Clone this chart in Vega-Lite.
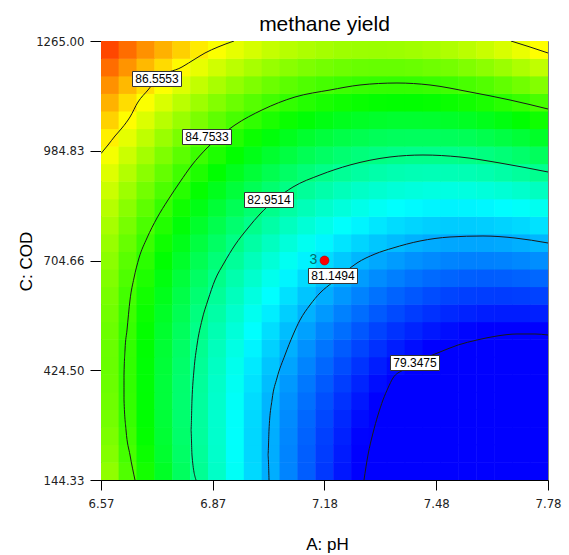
{
"$schema":"https://vega.github.io/schema/vega-lite/v6.json",
"width":447,"height":439,
"autosize":"none",
"padding":{"left":101,"top":41,"right":21,"bottom":75},
"background":"white",
"title":{"text":"methane yield","fontSize":21,"font":"Liberation Sans","fontWeight":"normal","color":"#000","anchor":"middle","frame":"group","offset":0},
"datasets":{
"grid":[
{"ph":6.5942,"cod":166.74,"y":85.52},{"ph":6.6426,"cod":166.74,"y":84.94},{"ph":6.691,"cod":166.74,"y":84.38},{"ph":6.7394,"cod":166.74,"y":83.85},{"ph":6.7878,"cod":166.74,"y":83.33},{"ph":6.8362,"cod":166.74,"y":82.84},{"ph":6.8846,"cod":166.74,"y":82.37},{"ph":6.933,"cod":166.74,"y":81.92},{"ph":6.9814,"cod":166.74,"y":81.50},{"ph":7.0298,"cod":166.74,"y":81.10},{"ph":7.0782,"cod":166.74,"y":80.72},{"ph":7.1266,"cod":166.74,"y":80.36},{"ph":7.175,"cod":166.74,"y":80.02},{"ph":7.2234,"cod":166.74,"y":79.71},{"ph":7.2718,"cod":166.74,"y":79.42},{"ph":7.3202,"cod":166.74,"y":79.15},{"ph":7.3686,"cod":166.74,"y":78.91},{"ph":7.417,"cod":166.74,"y":78.68},{"ph":7.4654,"cod":166.74,"y":78.48},{"ph":7.5138,"cod":166.74,"y":78.30},{"ph":7.5622,"cod":166.74,"y":78.15},{"ph":7.6106,"cod":166.74,"y":78.01},{"ph":7.659,"cod":166.74,"y":77.90},{"ph":7.7074,"cod":166.74,"y":77.81},{"ph":7.7558,"cod":166.74,"y":77.75},
{"ph":6.5942,"cod":211.57,"y":85.41},{"ph":6.6426,"cod":211.57,"y":84.84},{"ph":6.691,"cod":211.57,"y":84.30},{"ph":6.7394,"cod":211.57,"y":83.77},{"ph":6.7878,"cod":211.57,"y":83.27},{"ph":6.8362,"cod":211.57,"y":82.79},{"ph":6.8846,"cod":211.57,"y":82.33},{"ph":6.933,"cod":211.57,"y":81.89},{"ph":6.9814,"cod":211.57,"y":81.48},{"ph":7.0298,"cod":211.57,"y":81.09},{"ph":7.0782,"cod":211.57,"y":80.72},{"ph":7.1266,"cod":211.57,"y":80.37},{"ph":7.175,"cod":211.57,"y":80.05},{"ph":7.2234,"cod":211.57,"y":79.75},{"ph":7.2718,"cod":211.57,"y":79.47},{"ph":7.3202,"cod":211.57,"y":79.21},{"ph":7.3686,"cod":211.57,"y":78.97},{"ph":7.417,"cod":211.57,"y":78.76},{"ph":7.4654,"cod":211.57,"y":78.57},{"ph":7.5138,"cod":211.57,"y":78.40},{"ph":7.5622,"cod":211.57,"y":78.26},{"ph":7.6106,"cod":211.57,"y":78.13},{"ph":7.659,"cod":211.57,"y":78.03},{"ph":7.7074,"cod":211.57,"y":77.96},{"ph":7.7558,"cod":211.57,"y":77.90},
{"ph":6.5942,"cod":256.4,"y":85.33},{"ph":6.6426,"cod":256.4,"y":84.77},{"ph":6.691,"cod":256.4,"y":84.23},{"ph":6.7394,"cod":256.4,"y":83.72},{"ph":6.7878,"cod":256.4,"y":83.22},{"ph":6.8362,"cod":256.4,"y":82.75},{"ph":6.8846,"cod":256.4,"y":82.31},{"ph":6.933,"cod":256.4,"y":81.88},{"ph":6.9814,"cod":256.4,"y":81.48},{"ph":7.0298,"cod":256.4,"y":81.10},{"ph":7.0782,"cod":256.4,"y":80.74},{"ph":7.1266,"cod":256.4,"y":80.40},{"ph":7.175,"cod":256.4,"y":80.09},{"ph":7.2234,"cod":256.4,"y":79.80},{"ph":7.2718,"cod":256.4,"y":79.53},{"ph":7.3202,"cod":256.4,"y":79.28},{"ph":7.3686,"cod":256.4,"y":79.06},{"ph":7.417,"cod":256.4,"y":78.86},{"ph":7.4654,"cod":256.4,"y":78.68},{"ph":7.5138,"cod":256.4,"y":78.52},{"ph":7.5622,"cod":256.4,"y":78.39},{"ph":7.6106,"cod":256.4,"y":78.27},{"ph":7.659,"cod":256.4,"y":78.18},{"ph":7.7074,"cod":256.4,"y":78.12},{"ph":7.7558,"cod":256.4,"y":78.07},
{"ph":6.5942,"cod":301.22,"y":85.26},{"ph":6.6426,"cod":301.22,"y":84.71},{"ph":6.691,"cod":301.22,"y":84.18},{"ph":6.7394,"cod":301.22,"y":83.68},{"ph":6.7878,"cod":301.22,"y":83.20},{"ph":6.8362,"cod":301.22,"y":82.74},{"ph":6.8846,"cod":301.22,"y":82.30},{"ph":6.933,"cod":301.22,"y":81.89},{"ph":6.9814,"cod":301.22,"y":81.50},{"ph":7.0298,"cod":301.22,"y":81.13},{"ph":7.0782,"cod":301.22,"y":80.78},{"ph":7.1266,"cod":301.22,"y":80.45},{"ph":7.175,"cod":301.22,"y":80.15},{"ph":7.2234,"cod":301.22,"y":79.87},{"ph":7.2718,"cod":301.22,"y":79.61},{"ph":7.3202,"cod":301.22,"y":79.38},{"ph":7.3686,"cod":301.22,"y":79.16},{"ph":7.417,"cod":301.22,"y":78.97},{"ph":7.4654,"cod":301.22,"y":78.80},{"ph":7.5138,"cod":301.22,"y":78.66},{"ph":7.5622,"cod":301.22,"y":78.53},{"ph":7.6106,"cod":301.22,"y":78.43},{"ph":7.659,"cod":301.22,"y":78.35},{"ph":7.7074,"cod":301.22,"y":78.30},{"ph":7.7558,"cod":301.22,"y":78.26},
{"ph":6.5942,"cod":346.05,"y":85.21},{"ph":6.6426,"cod":346.05,"y":84.67},{"ph":6.691,"cod":346.05,"y":84.16},{"ph":6.7394,"cod":346.05,"y":83.66},{"ph":6.7878,"cod":346.05,"y":83.19},{"ph":6.8362,"cod":346.05,"y":82.74},{"ph":6.8846,"cod":346.05,"y":82.32},{"ph":6.933,"cod":346.05,"y":81.91},{"ph":6.9814,"cod":346.05,"y":81.53},{"ph":7.0298,"cod":346.05,"y":81.17},{"ph":7.0782,"cod":346.05,"y":80.84},{"ph":7.1266,"cod":346.05,"y":80.52},{"ph":7.175,"cod":346.05,"y":80.23},{"ph":7.2234,"cod":346.05,"y":79.96},{"ph":7.2718,"cod":346.05,"y":79.71},{"ph":7.3202,"cod":346.05,"y":79.49},{"ph":7.3686,"cod":346.05,"y":79.29},{"ph":7.417,"cod":346.05,"y":79.11},{"ph":7.4654,"cod":346.05,"y":78.95},{"ph":7.5138,"cod":346.05,"y":78.81},{"ph":7.5622,"cod":346.05,"y":78.70},{"ph":7.6106,"cod":346.05,"y":78.61},{"ph":7.659,"cod":346.05,"y":78.54},{"ph":7.7074,"cod":346.05,"y":78.49},{"ph":7.7558,"cod":346.05,"y":78.47},
{"ph":6.5942,"cod":390.88,"y":85.18},{"ph":6.6426,"cod":390.88,"y":84.65},{"ph":6.691,"cod":390.88,"y":84.15},{"ph":6.7394,"cod":390.88,"y":83.66},{"ph":6.7878,"cod":390.88,"y":83.20},{"ph":6.8362,"cod":390.88,"y":82.77},{"ph":6.8846,"cod":390.88,"y":82.35},{"ph":6.933,"cod":390.88,"y":81.96},{"ph":6.9814,"cod":390.88,"y":81.59},{"ph":7.0298,"cod":390.88,"y":81.24},{"ph":7.0782,"cod":390.88,"y":80.91},{"ph":7.1266,"cod":390.88,"y":80.61},{"ph":7.175,"cod":390.88,"y":80.33},{"ph":7.2234,"cod":390.88,"y":80.07},{"ph":7.2718,"cod":390.88,"y":79.83},{"ph":7.3202,"cod":390.88,"y":79.62},{"ph":7.3686,"cod":390.88,"y":79.43},{"ph":7.417,"cod":390.88,"y":79.26},{"ph":7.4654,"cod":390.88,"y":79.11},{"ph":7.5138,"cod":390.88,"y":78.99},{"ph":7.5622,"cod":390.88,"y":78.88},{"ph":7.6106,"cod":390.88,"y":78.80},{"ph":7.659,"cod":390.88,"y":78.75},{"ph":7.7074,"cod":390.88,"y":78.71},{"ph":7.7558,"cod":390.88,"y":78.70},
{"ph":6.5942,"cod":435.7,"y":85.16},{"ph":6.6426,"cod":435.7,"y":84.65},{"ph":6.691,"cod":435.7,"y":84.15},{"ph":6.7394,"cod":435.7,"y":83.68},{"ph":6.7878,"cod":435.7,"y":83.23},{"ph":6.8362,"cod":435.7,"y":82.81},{"ph":6.8846,"cod":435.7,"y":82.40},{"ph":6.933,"cod":435.7,"y":82.02},{"ph":6.9814,"cod":435.7,"y":81.66},{"ph":7.0298,"cod":435.7,"y":81.32},{"ph":7.0782,"cod":435.7,"y":81.01},{"ph":7.1266,"cod":435.7,"y":80.72},{"ph":7.175,"cod":435.7,"y":80.45},{"ph":7.2234,"cod":435.7,"y":80.20},{"ph":7.2718,"cod":435.7,"y":79.97},{"ph":7.3202,"cod":435.7,"y":79.77},{"ph":7.3686,"cod":435.7,"y":79.59},{"ph":7.417,"cod":435.7,"y":79.43},{"ph":7.4654,"cod":435.7,"y":79.29},{"ph":7.5138,"cod":435.7,"y":79.18},{"ph":7.5622,"cod":435.7,"y":79.09},{"ph":7.6106,"cod":435.7,"y":79.02},{"ph":7.659,"cod":435.7,"y":78.97},{"ph":7.7074,"cod":435.7,"y":78.95},{"ph":7.7558,"cod":435.7,"y":78.94},
{"ph":6.5942,"cod":480.53,"y":85.17},{"ph":6.6426,"cod":480.53,"y":84.66},{"ph":6.691,"cod":480.53,"y":84.18},{"ph":6.7394,"cod":480.53,"y":83.72},{"ph":6.7878,"cod":480.53,"y":83.28},{"ph":6.8362,"cod":480.53,"y":82.87},{"ph":6.8846,"cod":480.53,"y":82.47},{"ph":6.933,"cod":480.53,"y":82.10},{"ph":6.9814,"cod":480.53,"y":81.75},{"ph":7.0298,"cod":480.53,"y":81.43},{"ph":7.0782,"cod":480.53,"y":81.12},{"ph":7.1266,"cod":480.53,"y":80.84},{"ph":7.175,"cod":480.53,"y":80.58},{"ph":7.2234,"cod":480.53,"y":80.34},{"ph":7.2718,"cod":480.53,"y":80.13},{"ph":7.3202,"cod":480.53,"y":79.94},{"ph":7.3686,"cod":480.53,"y":79.77},{"ph":7.417,"cod":480.53,"y":79.62},{"ph":7.4654,"cod":480.53,"y":79.49},{"ph":7.5138,"cod":480.53,"y":79.39},{"ph":7.5622,"cod":480.53,"y":79.31},{"ph":7.6106,"cod":480.53,"y":79.25},{"ph":7.659,"cod":480.53,"y":79.21},{"ph":7.7074,"cod":480.53,"y":79.20},{"ph":7.7558,"cod":480.53,"y":79.21},
{"ph":6.5942,"cod":525.36,"y":85.19},{"ph":6.6426,"cod":525.36,"y":84.70},{"ph":6.691,"cod":525.36,"y":84.23},{"ph":6.7394,"cod":525.36,"y":83.78},{"ph":6.7878,"cod":525.36,"y":83.35},{"ph":6.8362,"cod":525.36,"y":82.95},{"ph":6.8846,"cod":525.36,"y":82.56},{"ph":6.933,"cod":525.36,"y":82.20},{"ph":6.9814,"cod":525.36,"y":81.86},{"ph":7.0298,"cod":525.36,"y":81.55},{"ph":7.0782,"cod":525.36,"y":81.25},{"ph":7.1266,"cod":525.36,"y":80.98},{"ph":7.175,"cod":525.36,"y":80.73},{"ph":7.2234,"cod":525.36,"y":80.51},{"ph":7.2718,"cod":525.36,"y":80.30},{"ph":7.3202,"cod":525.36,"y":80.12},{"ph":7.3686,"cod":525.36,"y":79.96},{"ph":7.417,"cod":525.36,"y":79.83},{"ph":7.4654,"cod":525.36,"y":79.71},{"ph":7.5138,"cod":525.36,"y":79.62},{"ph":7.5622,"cod":525.36,"y":79.55},{"ph":7.6106,"cod":525.36,"y":79.50},{"ph":7.659,"cod":525.36,"y":79.48},{"ph":7.7074,"cod":525.36,"y":79.47},{"ph":7.7558,"cod":525.36,"y":79.49},
{"ph":6.5942,"cod":570.18,"y":85.24},{"ph":6.6426,"cod":570.18,"y":84.75},{"ph":6.691,"cod":570.18,"y":84.29},{"ph":6.7394,"cod":570.18,"y":83.85},{"ph":6.7878,"cod":570.18,"y":83.44},{"ph":6.8362,"cod":570.18,"y":83.04},{"ph":6.8846,"cod":570.18,"y":82.67},{"ph":6.933,"cod":570.18,"y":82.32},{"ph":6.9814,"cod":570.18,"y":81.99},{"ph":7.0298,"cod":570.18,"y":81.69},{"ph":7.0782,"cod":570.18,"y":81.41},{"ph":7.1266,"cod":570.18,"y":81.14},{"ph":7.175,"cod":570.18,"y":80.91},{"ph":7.2234,"cod":570.18,"y":80.69},{"ph":7.2718,"cod":570.18,"y":80.50},{"ph":7.3202,"cod":570.18,"y":80.33},{"ph":7.3686,"cod":570.18,"y":80.18},{"ph":7.417,"cod":570.18,"y":80.05},{"ph":7.4654,"cod":570.18,"y":79.95},{"ph":7.5138,"cod":570.18,"y":79.87},{"ph":7.5622,"cod":570.18,"y":79.81},{"ph":7.6106,"cod":570.18,"y":79.77},{"ph":7.659,"cod":570.18,"y":79.76},{"ph":7.7074,"cod":570.18,"y":79.76},{"ph":7.7558,"cod":570.18,"y":79.79},
{"ph":6.5942,"cod":615.01,"y":85.30},{"ph":6.6426,"cod":615.01,"y":84.82},{"ph":6.691,"cod":615.01,"y":84.37},{"ph":6.7394,"cod":615.01,"y":83.95},{"ph":6.7878,"cod":615.01,"y":83.54},{"ph":6.8362,"cod":615.01,"y":83.16},{"ph":6.8846,"cod":615.01,"y":82.80},{"ph":6.933,"cod":615.01,"y":82.46},{"ph":6.9814,"cod":615.01,"y":82.14},{"ph":7.0298,"cod":615.01,"y":81.85},{"ph":7.0782,"cod":615.01,"y":81.57},{"ph":7.1266,"cod":615.01,"y":81.32},{"ph":7.175,"cod":615.01,"y":81.10},{"ph":7.2234,"cod":615.01,"y":80.89},{"ph":7.2718,"cod":615.01,"y":80.71},{"ph":7.3202,"cod":615.01,"y":80.55},{"ph":7.3686,"cod":615.01,"y":80.41},{"ph":7.417,"cod":615.01,"y":80.30},{"ph":7.4654,"cod":615.01,"y":80.20},{"ph":7.5138,"cod":615.01,"y":80.13},{"ph":7.5622,"cod":615.01,"y":80.08},{"ph":7.6106,"cod":615.01,"y":80.06},{"ph":7.659,"cod":615.01,"y":80.05},{"ph":7.7074,"cod":615.01,"y":80.07},{"ph":7.7558,"cod":615.01,"y":80.11},
{"ph":6.5942,"cod":659.84,"y":85.38},{"ph":6.6426,"cod":659.84,"y":84.92},{"ph":6.691,"cod":659.84,"y":84.48},{"ph":6.7394,"cod":659.84,"y":84.06},{"ph":6.7878,"cod":659.84,"y":83.66},{"ph":6.8362,"cod":659.84,"y":83.29},{"ph":6.8846,"cod":659.84,"y":82.94},{"ph":6.933,"cod":659.84,"y":82.61},{"ph":6.9814,"cod":659.84,"y":82.31},{"ph":7.0298,"cod":659.84,"y":82.02},{"ph":7.0782,"cod":659.84,"y":81.76},{"ph":7.1266,"cod":659.84,"y":81.52},{"ph":7.175,"cod":659.84,"y":81.31},{"ph":7.2234,"cod":659.84,"y":81.11},{"ph":7.2718,"cod":659.84,"y":80.94},{"ph":7.3202,"cod":659.84,"y":80.79},{"ph":7.3686,"cod":659.84,"y":80.67},{"ph":7.417,"cod":659.84,"y":80.56},{"ph":7.4654,"cod":659.84,"y":80.48},{"ph":7.5138,"cod":659.84,"y":80.42},{"ph":7.5622,"cod":659.84,"y":80.38},{"ph":7.6106,"cod":659.84,"y":80.36},{"ph":7.659,"cod":659.84,"y":80.37},{"ph":7.7074,"cod":659.84,"y":80.40},{"ph":7.7558,"cod":659.84,"y":80.45},
{"ph":6.5942,"cod":704.67,"y":85.48},{"ph":6.6426,"cod":704.67,"y":85.02},{"ph":6.691,"cod":704.67,"y":84.60},{"ph":6.7394,"cod":704.67,"y":84.19},{"ph":6.7878,"cod":704.67,"y":83.81},{"ph":6.8362,"cod":704.67,"y":83.44},{"ph":6.8846,"cod":704.67,"y":83.10},{"ph":6.933,"cod":704.67,"y":82.79},{"ph":6.9814,"cod":704.67,"y":82.49},{"ph":7.0298,"cod":704.67,"y":82.22},{"ph":7.0782,"cod":704.67,"y":81.97},{"ph":7.1266,"cod":704.67,"y":81.74},{"ph":7.175,"cod":704.67,"y":81.54},{"ph":7.2234,"cod":704.67,"y":81.35},{"ph":7.2718,"cod":704.67,"y":81.19},{"ph":7.3202,"cod":704.67,"y":81.05},{"ph":7.3686,"cod":704.67,"y":80.94},{"ph":7.417,"cod":704.67,"y":80.84},{"ph":7.4654,"cod":704.67,"y":80.77},{"ph":7.5138,"cod":704.67,"y":80.72},{"ph":7.5622,"cod":704.67,"y":80.69},{"ph":7.6106,"cod":704.67,"y":80.69},{"ph":7.659,"cod":704.67,"y":80.71},{"ph":7.7074,"cod":704.67,"y":80.75},{"ph":7.7558,"cod":704.67,"y":80.81},
{"ph":6.5942,"cod":749.49,"y":85.59},{"ph":6.6426,"cod":749.49,"y":85.15},{"ph":6.691,"cod":749.49,"y":84.73},{"ph":6.7394,"cod":749.49,"y":84.34},{"ph":6.7878,"cod":749.49,"y":83.97},{"ph":6.8362,"cod":749.49,"y":83.61},{"ph":6.8846,"cod":749.49,"y":83.29},{"ph":6.933,"cod":749.49,"y":82.98},{"ph":6.9814,"cod":749.49,"y":82.69},{"ph":7.0298,"cod":749.49,"y":82.43},{"ph":7.0782,"cod":749.49,"y":82.19},{"ph":7.1266,"cod":749.49,"y":81.98},{"ph":7.175,"cod":749.49,"y":81.78},{"ph":7.2234,"cod":749.49,"y":81.61},{"ph":7.2718,"cod":749.49,"y":81.46},{"ph":7.3202,"cod":749.49,"y":81.33},{"ph":7.3686,"cod":749.49,"y":81.23},{"ph":7.417,"cod":749.49,"y":81.14},{"ph":7.4654,"cod":749.49,"y":81.08},{"ph":7.5138,"cod":749.49,"y":81.04},{"ph":7.5622,"cod":749.49,"y":81.03},{"ph":7.6106,"cod":749.49,"y":81.03},{"ph":7.659,"cod":749.49,"y":81.06},{"ph":7.7074,"cod":749.49,"y":81.11},{"ph":7.7558,"cod":749.49,"y":81.19},
{"ph":6.5942,"cod":794.32,"y":85.73},{"ph":6.6426,"cod":794.32,"y":85.30},{"ph":6.691,"cod":794.32,"y":84.89},{"ph":6.7394,"cod":794.32,"y":84.51},{"ph":6.7878,"cod":794.32,"y":84.14},{"ph":6.8362,"cod":794.32,"y":83.80},{"ph":6.8846,"cod":794.32,"y":83.49},{"ph":6.933,"cod":794.32,"y":83.19},{"ph":6.9814,"cod":794.32,"y":82.92},{"ph":7.0298,"cod":794.32,"y":82.67},{"ph":7.0782,"cod":794.32,"y":82.44},{"ph":7.1266,"cod":794.32,"y":82.23},{"ph":7.175,"cod":794.32,"y":82.05},{"ph":7.2234,"cod":794.32,"y":81.88},{"ph":7.2718,"cod":794.32,"y":81.75},{"ph":7.3202,"cod":794.32,"y":81.63},{"ph":7.3686,"cod":794.32,"y":81.53},{"ph":7.417,"cod":794.32,"y":81.46},{"ph":7.4654,"cod":794.32,"y":81.41},{"ph":7.5138,"cod":794.32,"y":81.38},{"ph":7.5622,"cod":794.32,"y":81.38},{"ph":7.6106,"cod":794.32,"y":81.40},{"ph":7.659,"cod":794.32,"y":81.44},{"ph":7.7074,"cod":794.32,"y":81.50},{"ph":7.7558,"cod":794.32,"y":81.58},
{"ph":6.5942,"cod":839.15,"y":85.88},{"ph":6.6426,"cod":839.15,"y":85.46},{"ph":6.691,"cod":839.15,"y":85.07},{"ph":6.7394,"cod":839.15,"y":84.69},{"ph":6.7878,"cod":839.15,"y":84.34},{"ph":6.8362,"cod":839.15,"y":84.01},{"ph":6.8846,"cod":839.15,"y":83.70},{"ph":6.933,"cod":839.15,"y":83.42},{"ph":6.9814,"cod":839.15,"y":83.16},{"ph":7.0298,"cod":839.15,"y":82.92},{"ph":7.0782,"cod":839.15,"y":82.70},{"ph":7.1266,"cod":839.15,"y":82.50},{"ph":7.175,"cod":839.15,"y":82.33},{"ph":7.2234,"cod":839.15,"y":82.18},{"ph":7.2718,"cod":839.15,"y":82.05},{"ph":7.3202,"cod":839.15,"y":81.94},{"ph":7.3686,"cod":839.15,"y":81.86},{"ph":7.417,"cod":839.15,"y":81.80},{"ph":7.4654,"cod":839.15,"y":81.76},{"ph":7.5138,"cod":839.15,"y":81.74},{"ph":7.5622,"cod":839.15,"y":81.75},{"ph":7.6106,"cod":839.15,"y":81.78},{"ph":7.659,"cod":839.15,"y":81.83},{"ph":7.7074,"cod":839.15,"y":81.90},{"ph":7.7558,"cod":839.15,"y":81.99},
{"ph":6.5942,"cod":883.97,"y":86.06},{"ph":6.6426,"cod":883.97,"y":85.65},{"ph":6.691,"cod":883.97,"y":85.26},{"ph":6.7394,"cod":883.97,"y":84.90},{"ph":6.7878,"cod":883.97,"y":84.56},{"ph":6.8362,"cod":883.97,"y":84.24},{"ph":6.8846,"cod":883.97,"y":83.94},{"ph":6.933,"cod":883.97,"y":83.67},{"ph":6.9814,"cod":883.97,"y":83.42},{"ph":7.0298,"cod":883.97,"y":83.19},{"ph":7.0782,"cod":883.97,"y":82.98},{"ph":7.1266,"cod":883.97,"y":82.79},{"ph":7.175,"cod":883.97,"y":82.63},{"ph":7.2234,"cod":883.97,"y":82.49},{"ph":7.2718,"cod":883.97,"y":82.37},{"ph":7.3202,"cod":883.97,"y":82.28},{"ph":7.3686,"cod":883.97,"y":82.21},{"ph":7.417,"cod":883.97,"y":82.16},{"ph":7.4654,"cod":883.97,"y":82.13},{"ph":7.5138,"cod":883.97,"y":82.12},{"ph":7.5622,"cod":883.97,"y":82.14},{"ph":7.6106,"cod":883.97,"y":82.18},{"ph":7.659,"cod":883.97,"y":82.24},{"ph":7.7074,"cod":883.97,"y":82.32},{"ph":7.7558,"cod":883.97,"y":82.43},
{"ph":6.5942,"cod":928.8,"y":86.25},{"ph":6.6426,"cod":928.8,"y":85.85},{"ph":6.691,"cod":928.8,"y":85.47},{"ph":6.7394,"cod":928.8,"y":85.12},{"ph":6.7878,"cod":928.8,"y":84.79},{"ph":6.8362,"cod":928.8,"y":84.48},{"ph":6.8846,"cod":928.8,"y":84.20},{"ph":6.933,"cod":928.8,"y":83.93},{"ph":6.9814,"cod":928.8,"y":83.69},{"ph":7.0298,"cod":928.8,"y":83.47},{"ph":7.0782,"cod":928.8,"y":83.28},{"ph":7.1266,"cod":928.8,"y":83.10},{"ph":7.175,"cod":928.8,"y":82.95},{"ph":7.2234,"cod":928.8,"y":82.82},{"ph":7.2718,"cod":928.8,"y":82.72},{"ph":7.3202,"cod":928.8,"y":82.63},{"ph":7.3686,"cod":928.8,"y":82.57},{"ph":7.417,"cod":928.8,"y":82.53},{"ph":7.4654,"cod":928.8,"y":82.51},{"ph":7.5138,"cod":928.8,"y":82.52},{"ph":7.5622,"cod":928.8,"y":82.54},{"ph":7.6106,"cod":928.8,"y":82.59},{"ph":7.659,"cod":928.8,"y":82.67},{"ph":7.7074,"cod":928.8,"y":82.76},{"ph":7.7558,"cod":928.8,"y":82.88},
{"ph":6.5942,"cod":973.63,"y":86.46},{"ph":6.6426,"cod":973.63,"y":86.07},{"ph":6.691,"cod":973.63,"y":85.71},{"ph":6.7394,"cod":973.63,"y":85.36},{"ph":6.7878,"cod":973.63,"y":85.04},{"ph":6.8362,"cod":973.63,"y":84.75},{"ph":6.8846,"cod":973.63,"y":84.47},{"ph":6.933,"cod":973.63,"y":84.22},{"ph":6.9814,"cod":973.63,"y":83.99},{"ph":7.0298,"cod":973.63,"y":83.78},{"ph":7.0782,"cod":973.63,"y":83.60},{"ph":7.1266,"cod":973.63,"y":83.43},{"ph":7.175,"cod":973.63,"y":83.29},{"ph":7.2234,"cod":973.63,"y":83.17},{"ph":7.2718,"cod":973.63,"y":83.08},{"ph":7.3202,"cod":973.63,"y":83.00},{"ph":7.3686,"cod":973.63,"y":82.95},{"ph":7.417,"cod":973.63,"y":82.92},{"ph":7.4654,"cod":973.63,"y":82.92},{"ph":7.5138,"cod":973.63,"y":82.93},{"ph":7.5622,"cod":973.63,"y":82.97},{"ph":7.6106,"cod":973.63,"y":83.03},{"ph":7.659,"cod":973.63,"y":83.11},{"ph":7.7074,"cod":973.63,"y":83.22},{"ph":7.7558,"cod":973.63,"y":83.35},
{"ph":6.5942,"cod":1018.45,"y":86.68},{"ph":6.6426,"cod":1018.45,"y":86.31},{"ph":6.691,"cod":1018.45,"y":85.96},{"ph":6.7394,"cod":1018.45,"y":85.62},{"ph":6.7878,"cod":1018.45,"y":85.32},{"ph":6.8362,"cod":1018.45,"y":85.03},{"ph":6.8846,"cod":1018.45,"y":84.77},{"ph":6.933,"cod":1018.45,"y":84.52},{"ph":6.9814,"cod":1018.45,"y":84.30},{"ph":7.0298,"cod":1018.45,"y":84.11},{"ph":7.0782,"cod":1018.45,"y":83.93},{"ph":7.1266,"cod":1018.45,"y":83.78},{"ph":7.175,"cod":1018.45,"y":83.65},{"ph":7.2234,"cod":1018.45,"y":83.54},{"ph":7.2718,"cod":1018.45,"y":83.46},{"ph":7.3202,"cod":1018.45,"y":83.39},{"ph":7.3686,"cod":1018.45,"y":83.35},{"ph":7.417,"cod":1018.45,"y":83.34},{"ph":7.4654,"cod":1018.45,"y":83.34},{"ph":7.5138,"cod":1018.45,"y":83.37},{"ph":7.5622,"cod":1018.45,"y":83.41},{"ph":7.6106,"cod":1018.45,"y":83.49},{"ph":7.659,"cod":1018.45,"y":83.58},{"ph":7.7074,"cod":1018.45,"y":83.69},{"ph":7.7558,"cod":1018.45,"y":83.83},
{"ph":6.5942,"cod":1063.28,"y":86.93},{"ph":6.6426,"cod":1063.28,"y":86.57},{"ph":6.691,"cod":1063.28,"y":86.22},{"ph":6.7394,"cod":1063.28,"y":85.90},{"ph":6.7878,"cod":1063.28,"y":85.61},{"ph":6.8362,"cod":1063.28,"y":85.33},{"ph":6.8846,"cod":1063.28,"y":85.08},{"ph":6.933,"cod":1063.28,"y":84.85},{"ph":6.9814,"cod":1063.28,"y":84.64},{"ph":7.0298,"cod":1063.28,"y":84.45},{"ph":7.0782,"cod":1063.28,"y":84.29},{"ph":7.1266,"cod":1063.28,"y":84.15},{"ph":7.175,"cod":1063.28,"y":84.03},{"ph":7.2234,"cod":1063.28,"y":83.93},{"ph":7.2718,"cod":1063.28,"y":83.86},{"ph":7.3202,"cod":1063.28,"y":83.80},{"ph":7.3686,"cod":1063.28,"y":83.77},{"ph":7.417,"cod":1063.28,"y":83.77},{"ph":7.4654,"cod":1063.28,"y":83.78},{"ph":7.5138,"cod":1063.28,"y":83.82},{"ph":7.5622,"cod":1063.28,"y":83.88},{"ph":7.6106,"cod":1063.28,"y":83.96},{"ph":7.659,"cod":1063.28,"y":84.06},{"ph":7.7074,"cod":1063.28,"y":84.19},{"ph":7.7558,"cod":1063.28,"y":84.34},
{"ph":6.5942,"cod":1108.11,"y":87.20},{"ph":6.6426,"cod":1108.11,"y":86.84},{"ph":6.691,"cod":1108.11,"y":86.51},{"ph":6.7394,"cod":1108.11,"y":86.20},{"ph":6.7878,"cod":1108.11,"y":85.91},{"ph":6.8362,"cod":1108.11,"y":85.65},{"ph":6.8846,"cod":1108.11,"y":85.41},{"ph":6.933,"cod":1108.11,"y":85.19},{"ph":6.9814,"cod":1108.11,"y":84.99},{"ph":7.0298,"cod":1108.11,"y":84.81},{"ph":7.0782,"cod":1108.11,"y":84.66},{"ph":7.1266,"cod":1108.11,"y":84.53},{"ph":7.175,"cod":1108.11,"y":84.42},{"ph":7.2234,"cod":1108.11,"y":84.34},{"ph":7.2718,"cod":1108.11,"y":84.27},{"ph":7.3202,"cod":1108.11,"y":84.23},{"ph":7.3686,"cod":1108.11,"y":84.21},{"ph":7.417,"cod":1108.11,"y":84.21},{"ph":7.4654,"cod":1108.11,"y":84.24},{"ph":7.5138,"cod":1108.11,"y":84.29},{"ph":7.5622,"cod":1108.11,"y":84.36},{"ph":7.6106,"cod":1108.11,"y":84.45},{"ph":7.659,"cod":1108.11,"y":84.57},{"ph":7.7074,"cod":1108.11,"y":84.70},{"ph":7.7558,"cod":1108.11,"y":84.86},
{"ph":6.5942,"cod":1152.93,"y":87.48},{"ph":6.6426,"cod":1152.93,"y":87.14},{"ph":6.691,"cod":1152.93,"y":86.82},{"ph":6.7394,"cod":1152.93,"y":86.52},{"ph":6.7878,"cod":1152.93,"y":86.24},{"ph":6.8362,"cod":1152.93,"y":85.99},{"ph":6.8846,"cod":1152.93,"y":85.76},{"ph":6.933,"cod":1152.93,"y":85.55},{"ph":6.9814,"cod":1152.93,"y":85.36},{"ph":7.0298,"cod":1152.93,"y":85.19},{"ph":7.0782,"cod":1152.93,"y":85.05},{"ph":7.1266,"cod":1152.93,"y":84.93},{"ph":7.175,"cod":1152.93,"y":84.84},{"ph":7.2234,"cod":1152.93,"y":84.76},{"ph":7.2718,"cod":1152.93,"y":84.71},{"ph":7.3202,"cod":1152.93,"y":84.68},{"ph":7.3686,"cod":1152.93,"y":84.67},{"ph":7.417,"cod":1152.93,"y":84.68},{"ph":7.4654,"cod":1152.93,"y":84.72},{"ph":7.5138,"cod":1152.93,"y":84.78},{"ph":7.5622,"cod":1152.93,"y":84.86},{"ph":7.6106,"cod":1152.93,"y":84.96},{"ph":7.659,"cod":1152.93,"y":85.09},{"ph":7.7074,"cod":1152.93,"y":85.24},{"ph":7.7558,"cod":1152.93,"y":85.41},
{"ph":6.5942,"cod":1197.76,"y":87.78},{"ph":6.6426,"cod":1197.76,"y":87.45},{"ph":6.691,"cod":1197.76,"y":87.14},{"ph":6.7394,"cod":1197.76,"y":86.85},{"ph":6.7878,"cod":1197.76,"y":86.59},{"ph":6.8362,"cod":1197.76,"y":86.34},{"ph":6.8846,"cod":1197.76,"y":86.12},{"ph":6.933,"cod":1197.76,"y":85.92},{"ph":6.9814,"cod":1197.76,"y":85.75},{"ph":7.0298,"cod":1197.76,"y":85.59},{"ph":7.0782,"cod":1197.76,"y":85.46},{"ph":7.1266,"cod":1197.76,"y":85.35},{"ph":7.175,"cod":1197.76,"y":85.27},{"ph":7.2234,"cod":1197.76,"y":85.20},{"ph":7.2718,"cod":1197.76,"y":85.16},{"ph":7.3202,"cod":1197.76,"y":85.14},{"ph":7.3686,"cod":1197.76,"y":85.14},{"ph":7.417,"cod":1197.76,"y":85.17},{"ph":7.4654,"cod":1197.76,"y":85.22},{"ph":7.5138,"cod":1197.76,"y":85.28},{"ph":7.5622,"cod":1197.76,"y":85.38},{"ph":7.6106,"cod":1197.76,"y":85.49},{"ph":7.659,"cod":1197.76,"y":85.63},{"ph":7.7074,"cod":1197.76,"y":85.79},{"ph":7.7558,"cod":1197.76,"y":85.97},
{"ph":6.5942,"cod":1242.59,"y":88.10},{"ph":6.6426,"cod":1242.59,"y":87.78},{"ph":6.691,"cod":1242.59,"y":87.48},{"ph":6.7394,"cod":1242.59,"y":87.21},{"ph":6.7878,"cod":1242.59,"y":86.95},{"ph":6.8362,"cod":1242.59,"y":86.72},{"ph":6.8846,"cod":1242.59,"y":86.51},{"ph":6.933,"cod":1242.59,"y":86.32},{"ph":6.9814,"cod":1242.59,"y":86.16},{"ph":7.0298,"cod":1242.59,"y":86.01},{"ph":7.0782,"cod":1242.59,"y":85.89},{"ph":7.1266,"cod":1242.59,"y":85.79},{"ph":7.175,"cod":1242.59,"y":85.72},{"ph":7.2234,"cod":1242.59,"y":85.66},{"ph":7.2718,"cod":1242.59,"y":85.63},{"ph":7.3202,"cod":1242.59,"y":85.62},{"ph":7.3686,"cod":1242.59,"y":85.64},{"ph":7.417,"cod":1242.59,"y":85.67},{"ph":7.4654,"cod":1242.59,"y":85.73},{"ph":7.5138,"cod":1242.59,"y":85.81},{"ph":7.5622,"cod":1242.59,"y":85.91},{"ph":7.6106,"cod":1242.59,"y":86.04},{"ph":7.659,"cod":1242.59,"y":86.19},{"ph":7.7074,"cod":1242.59,"y":86.36},{"ph":7.7558,"cod":1242.59,"y":86.55}
],
"contours":[
{"k":"c79","i":0,"ph":7.2819,"cod":144.33},{"k":"c79","i":1,"ph":7.2927,"cod":208.15},{"k":"c79","i":2,"ph":7.3063,"cod":264.31},{"k":"c79","i":3,"ph":7.3198,"cod":310.26},{"k":"c79","i":4,"ph":7.3333,"cod":348.55},{"k":"c79","i":5,"ph":7.3469,"cod":379.19},{"k":"c79","i":6,"ph":7.3604,"cod":404.71},{"k":"c79","i":7,"ph":7.3875,"cod":425.14},{"k":"c79","i":8,"ph":7.4146,"cod":443.0},{"k":"c79","i":9,"ph":7.447,"cod":455.77},{"k":"c79","i":10,"ph":7.4876,"cod":471.09},{"k":"c79","i":11,"ph":7.5364,"cod":488.95},{"k":"c79","i":12,"ph":7.5878,"cod":501.72},{"k":"c79","i":13,"ph":7.6419,"cod":511.93},{"k":"c79","i":14,"ph":7.6961,"cod":517.04},{"k":"c79","i":15,"ph":7.7448,"cod":517.04},{"k":"c79","i":16,"ph":7.78,"cod":514.48},
{"k":"c81","i":0,"ph":7.0248,"cod":144.33},{"k":"c81","i":1,"ph":7.0221,"cod":208.15},{"k":"c81","i":2,"ph":7.0248,"cod":271.97},{"k":"c81","i":3,"ph":7.0329,"cod":348.55},{"k":"c81","i":4,"ph":7.0464,"cod":404.71},{"k":"c81","i":5,"ph":7.0681,"cod":463.43},{"k":"c81","i":6,"ph":7.0897,"cod":514.48},{"k":"c81","i":7,"ph":7.1087,"cod":552.77},{"k":"c81","i":8,"ph":7.1357,"cod":591.07},{"k":"c81","i":9,"ph":7.1628,"cod":621.7},{"k":"c81","i":10,"ph":7.198,"cod":649.78},{"k":"c81","i":11,"ph":7.2305,"cod":675.31},{"k":"c81","i":12,"ph":7.263,"cod":698.28},{"k":"c81","i":13,"ph":7.3117,"cod":721.26},{"k":"c81","i":14,"ph":7.3604,"cod":736.57},{"k":"c81","i":15,"ph":7.4335,"cod":754.44},{"k":"c81","i":16,"ph":7.5147,"cod":764.66},{"k":"c81","i":17,"ph":7.604,"cod":767.21},{"k":"c81","i":18,"ph":7.6907,"cod":762.1},{"k":"c81","i":19,"ph":7.78,"cod":749.34},
{"k":"c83","i":0,"ph":6.8272,"cod":144.33},{"k":"c83","i":1,"ph":6.8163,"cod":208.15},{"k":"c83","i":2,"ph":6.8136,"cod":271.97},{"k":"c83","i":3,"ph":6.8163,"cod":348.55},{"k":"c83","i":4,"ph":6.8217,"cod":425.14},{"k":"c83","i":5,"ph":6.8299,"cod":488.95},{"k":"c83","i":6,"ph":6.8434,"cod":552.77},{"k":"c83","i":7,"ph":6.8596,"cod":603.83},{"k":"c83","i":8,"ph":6.8786,"cod":654.89},{"k":"c83","i":9,"ph":6.903,"cod":698.28},{"k":"c83","i":10,"ph":6.9327,"cod":744.23},{"k":"c83","i":11,"ph":6.9679,"cod":787.63},{"k":"c83","i":12,"ph":7.0004,"cod":823.37},{"k":"c83","i":13,"ph":7.041,"cod":859.11},{"k":"c83","i":14,"ph":7.0897,"cod":892.29},{"k":"c83","i":15,"ph":7.1628,"cod":922.93},{"k":"c83","i":16,"ph":7.244,"cod":948.46},{"k":"c83","i":17,"ph":7.3523,"cod":968.88},{"k":"c83","i":18,"ph":7.4416,"cod":973.98},{"k":"c83","i":19,"ph":7.5418,"cod":968.88},{"k":"c83","i":20,"ph":7.6501,"cod":953.56},{"k":"c83","i":21,"ph":7.78,"cod":930.59},
{"k":"c85","i":0,"ph":6.662,"cod":144.33},{"k":"c85","i":1,"ph":6.6485,"cod":208.15},{"k":"c85","i":2,"ph":6.6377,"cod":271.97},{"k":"c85","i":3,"ph":6.6323,"cod":348.55},{"k":"c85","i":4,"ph":6.6323,"cod":412.37},{"k":"c85","i":5,"ph":6.635,"cod":476.19},{"k":"c85","i":6,"ph":6.6404,"cod":527.25},{"k":"c85","i":7,"ph":6.6485,"cod":603.83},{"k":"c85","i":8,"ph":6.6593,"cod":659.99},{"k":"c85","i":9,"ph":6.6729,"cod":711.05},{"k":"c85","i":10,"ph":6.6945,"cod":762.1},{"k":"c85","i":11,"ph":6.7216,"cod":813.16},{"k":"c85","i":12,"ph":6.7514,"cod":859.11},{"k":"c85","i":13,"ph":6.7838,"cod":905.06},{"k":"c85","i":14,"ph":6.8163,"cod":948.46},{"k":"c85","i":15,"ph":6.8569,"cod":991.85},{"k":"c85","i":16,"ph":6.9327,"cod":1050.57},{"k":"c85","i":17,"ph":7.0058,"cod":1088.86},{"k":"c85","i":18,"ph":7.0951,"cod":1122.04},{"k":"c85","i":19,"ph":7.1899,"cod":1139.91},{"k":"c85","i":20,"ph":7.2711,"cod":1152.68},{"k":"c85","i":21,"ph":7.3712,"cod":1157.78},{"k":"c85","i":22,"ph":7.4606,"cod":1152.68},{"k":"c85","i":23,"ph":7.5688,"cod":1134.81},{"k":"c85","i":24,"ph":7.6771,"cod":1114.39},{"k":"c85","i":25,"ph":7.78,"cod":1091.41},
{"k":"c87a","i":0,"ph":6.57,"cod":977.8},{"k":"c87a","i":1,"ph":6.589,"cod":999.51},{"k":"c87a","i":2,"ph":6.6079,"cod":1022.49},{"k":"c87a","i":3,"ph":6.6268,"cod":1042.91},{"k":"c87a","i":4,"ph":6.6485,"cod":1070.99},{"k":"c87a","i":5,"ph":6.6702,"cod":1109.28},{"k":"c87a","i":6,"ph":6.6972,"cod":1139.91},{"k":"c87a","i":7,"ph":6.7216,"cod":1168.0},{"k":"c87a","i":8,"ph":6.7893,"cod":1198.63},{"k":"c87a","i":9,"ph":6.8245,"cod":1219.05},{"k":"c87a","i":10,"ph":6.8515,"cod":1234.37},{"k":"c87a","i":11,"ph":6.8867,"cod":1249.68},{"k":"c87a","i":12,"ph":6.93,"cod":1265},
{"k":"c87b","i":0,"ph":7.6798,"cod":1265},{"k":"c87b","i":1,"ph":7.7313,"cod":1249.68},{"k":"c87b","i":2,"ph":7.78,"cod":1234.37}
],
"labels":[
{"t":"86.5553","ph":6.7216,"cod":1168.0},
{"t":"84.7533","ph":6.8569,"cod":1019.9},
{"t":"82.9514","ph":7.0248,"cod":859.1},
{"t":"81.1494","ph":7.198,"cod":665.1},
{"t":"79.3475","ph":7.42,"cod":443.0}
],
"center":[{"ph":7.175,"cod":704.665,"n":"3"}]
},
"layer":[
{"data":{"name":"grid"},
 "mark":{"type":"rect","width":18.4,"height":18.1,"clip":true},
 "encoding":{
  "x":{"field":"ph","type":"quantitative","scale":{"domain":[6.57,7.78],"nice":false,"zero":false},
   "axis":{"title":"A: pH","values":[6.57,6.8725,7.175,7.4775,7.78],"labelExpr":"datum.value < 6.6 ? '6.57' : datum.value < 7 ? '6.87' : datum.value < 7.3 ? '7.18' : datum.value < 7.6 ? '7.48' : '7.78'","tickSize":10,"labelPadding":7,"labelFlush":false,"labelOverlap":false,"titleX":226,"titleY":64,"titleAlign":"center","titleBaseline":"middle"}},
  "y":{"field":"cod","type":"quantitative","scale":{"domain":[144.33,1265],"nice":false,"zero":false},
   "axis":{"title":"C: COD","values":[144.33,424.5,704.66,984.83,1265],"format":".2f","tickSize":11,"labelPadding":6,"labelOverlap":false,"labelFlush":false,"titleAngle":-90,"titleX":-75,"titleY":220,"titleAlign":"center","titleBaseline":"middle"}},
  "color":{"field":"y","type":"quantitative","scale":{"domain":[79.5,81.85,84.2,86.55,88.7],"range":["#0000ff","#00ffff","#00ff00","#ffff00","#ff0000"],"clamp":true,"interpolate":"rgb"},"legend":null}
 }},
{"data":{"name":"contours"},
 "mark":{"type":"line","stroke":"#1a1a1a","strokeWidth":1,"clip":true,"interpolate":"monotone"},
 "encoding":{"x":{"field":"ph","type":"quantitative"},"y":{"field":"cod","type":"quantitative"},"detail":{"field":"k"},"order":{"field":"i","type":"quantitative"}}},
{"data":{"name":"labels"},
 "mark":{"type":"rect","width":49,"height":15,"fill":"#ffffff","stroke":"#333333","strokeWidth":1},
 "encoding":{"x":{"field":"ph","type":"quantitative"},"y":{"field":"cod","type":"quantitative"}}},
{"data":{"name":"labels"},
 "mark":{"type":"text","font":"Liberation Sans","fontSize":12,"color":"#000","align":"center","baseline":"middle"},
 "encoding":{"x":{"field":"ph","type":"quantitative"},"y":{"field":"cod","type":"quantitative"},"text":{"field":"t"}}},
{"data":{"name":"center"},
 "mark":{"type":"point","filled":true,"shape":"circle","size":80,"color":"#ff0000","opacity":1,"stroke":"#b00000","strokeWidth":0.6},
 "encoding":{"x":{"field":"ph","type":"quantitative"},"y":{"field":"cod","type":"quantitative"}}},
{"data":{"name":"center"},
 "mark":{"type":"text","font":"Liberation Sans","fontSize":14,"color":"#006e6e","align":"center","baseline":"middle","dx":-11,"dy":-1},
 "encoding":{"x":{"field":"ph","type":"quantitative"},"y":{"field":"cod","type":"quantitative"},"text":{"field":"n"}}}
],
"config":{
 "view":{"stroke":"#808080","strokeWidth":1},
 "axis":{"labelFont":"Liberation Sans Narrow, Arial Narrow, DejaVu Sans Condensed, Liberation Sans","labelFontSize":13,"labelColor":"#222222","tickColor":"#000000","domainColor":"#000000","grid":false,"titleFont":"Liberation Sans","titleFontSize":17,"titleFontWeight":"normal","titleColor":"#000000"}
}
}
